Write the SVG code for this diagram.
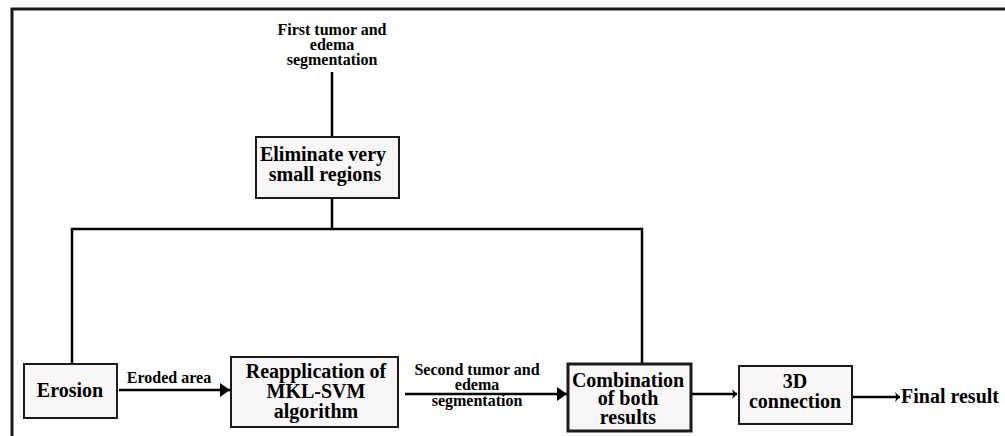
<svg xmlns="http://www.w3.org/2000/svg" width="1005" height="436" viewBox="0 0 1005 436">
<defs>
<style>
.box{fill:#f8f6f7;stroke:#1a1a1a;stroke-width:2}
.thick{stroke-width:3}
.ln{fill:none;stroke:#000;stroke-width:2.5}
.t{font-weight:bold;fill:#000;text-anchor:middle}
.big{font-size:20px}
.mid{font-size:19px}
.sm{font-size:16px}
</style>
<marker id="ah" markerWidth="11" markerHeight="14" refX="10" refY="7" orient="auto" markerUnits="userSpaceOnUse">
<path d="M0,0 L10,7 L0,14 Z" fill="#000"/>
</marker>
<marker id="ahs" markerWidth="6" markerHeight="12" refX="5" refY="6" orient="auto" markerUnits="userSpaceOnUse">
<path d="M0,1 L5,6 L0,11 L1.5,6 Z" fill="#000"/>
</marker>
</defs>
<rect width="1005" height="436" fill="#fff"/>
<path d="M12,436 V9 H1005" fill="none" stroke="#1a1a1a" stroke-width="3"/>
<g id="connectors">
<line class="ln" x1="332" y1="72" x2="332" y2="137"/>
<line class="ln" x1="332" y1="198" x2="332" y2="229"/>
<polyline class="ln" points="72,364 72,229 642,229 642,363"/>
<line class="ln" x1="119" y1="390" x2="230" y2="390" marker-end="url(#ah)"/>
<line class="ln" x1="405" y1="394" x2="567" y2="394" marker-end="url(#ah)"/>
<line class="ln" x1="692" y1="394" x2="737" y2="394" marker-end="url(#ahs)"/>
<line class="ln" x1="852" y1="397" x2="900" y2="397" marker-end="url(#ahs)"/>
</g>
<g font-family="Liberation Serif, Times New Roman, serif">
<g id="first-seg">
<text class="t sm" x="332" y="35">First tumor and</text>
<text class="t sm" x="332" y="50">edema</text>
<text class="t sm" x="332" y="65">segmentation</text>
</g>
<g id="eliminate">
<rect class="box" x="256" y="137" width="143" height="61"/>
<text class="t big" x="323" y="161">Eliminate very</text>
<text class="t big" x="325" y="181">small regions</text>
</g>
<g id="erosion">
<rect class="box" x="24" y="364" width="93" height="54"/>
<text class="t big" x="70" y="397">Erosion</text>
</g>
<g id="eroded-label">
<text class="t sm" x="169" y="383">Eroded area</text>
</g>
<g id="reapplication">
<rect class="box" x="231" y="357" width="167" height="70"/>
<text class="t big" x="316" y="378">Reapplication of</text>
<text class="t big" x="316" y="398">MKL-SVM</text>
<text class="t big" x="316" y="418">algorithm</text>
</g>
<g id="second-seg">
<text class="t sm" x="477" y="375">Second tumor and</text>
<text class="t sm" x="477" y="390">edema</text>
<text class="t sm" x="477" y="406">segmentation</text>
</g>
<g id="combination">
<rect class="box thick" x="568" y="364" width="123" height="67"/>
<text class="t big" x="628" y="387">Combination</text>
<text class="t big" x="628" y="405">of both</text>
<text class="t big" x="628" y="424">results</text>
</g>
<g id="connection3d">
<rect class="box" x="739" y="366" width="113" height="58"/>
<text class="t big" x="795" y="388">3D</text>
<text class="t big" x="795" y="408">connection</text>
</g>
<g id="final">
<text class="t big" x="901" y="403" style="text-anchor:start">Final result</text>
</g>
</g>
</svg>
